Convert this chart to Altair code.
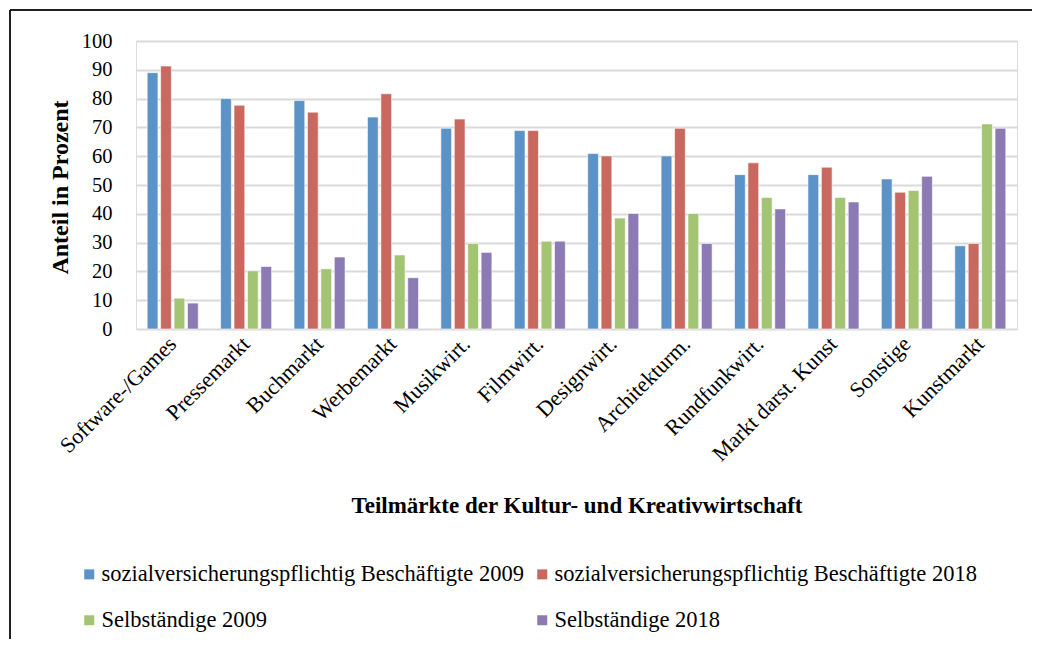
import altair as alt
import pandas as pd

categories = ["Software-/Games", "Pressemarkt", "Buchmarkt", "Werbemarkt", "Musikwirt.",
              "Filmwirt.", "Designwirt.", "Architekturm.", "Rundfunkwirt.",
              "Markt darst. Kunst", "Sonstige", "Kunstmarkt"]
series = ["sozialversicherungspflichtig Beschäftigte 2009",
          "sozialversicherungspflichtig Beschäftigte 2018",
          "Selbständige 2009", "Selbständige 2018"]
svb_2009 = [89, 80, 79.3, 73.6, 69.7, 68.9, 60.9, 60.1, 53.6, 53.6, 52.1, 28.9]
svb_2018 = [91.3, 77.7, 75.3, 81.7, 72.9, 68.9, 60.1, 69.7, 57.7, 56.2, 47.5, 29.7]
selb_2009 = [10.7, 20.2, 20.9, 25.7, 29.7, 30.5, 38.5, 40.1, 45.7, 45.7, 48.1, 71.2]
selb_2018 = [9.0, 21.7, 25.0, 17.8, 26.6, 30.5, 40.1, 29.7, 41.7, 44.1, 53.0, 69.7]
colors = ["#5B92C7", "#C8685F", "#A3C473", "#8B7AB3"]

rows = []
for s, vals in zip(series, [svb_2009, svb_2018, selb_2009, selb_2018]):
    for c, v in zip(categories, vals):
        rows.append({"Teilmarkt": c, "Gruppe": s, "Wert": v})
df = pd.DataFrame(rows)

# legend is filled column by column: order the colour domain so rows read as in the original
legend_order = [series[0], series[2], series[1], series[3]]
legend_colors = [colors[0], colors[2], colors[1], colors[3]]

FONT = "Liberation Serif"

bars = alt.Chart(df).mark_bar(stroke="white", strokeWidth=0.6).encode(
    x=alt.X("Teilmarkt:N", sort=categories,
            scale=alt.Scale(paddingInner=0.305, paddingOuter=0.1525),
            axis=alt.Axis(title="Teilmärkte der Kultur- und Kreativwirtschaft",
                          labelAngle=-45, labelFontSize=22, labelPadding=11,
                          labelAlign="right", labelBaseline="middle",
                          labelFont=FONT, labelColor="#000000",
                          ticks=False, domain=False, grid=False,
                          titleFont=FONT, titleFontSize=23, titleFontWeight="bold",
                          titleColor="#000000", titleY=176, titleBaseline="middle")),
    xOffset=alt.XOffset("Gruppe:N", sort=series,
                        scale=alt.Scale(paddingInner=0.2, paddingOuter=0)),
    y=alt.Y("Wert:Q", scale=alt.Scale(domain=[0, 100], nice=False),
            axis=alt.Axis(title="Anteil in Prozent", values=list(range(0, 101, 10)),
                          labelFontSize=20.5, labelFont=FONT, labelColor="#000000",
                          labelPadding=24, ticks=False, domain=False,
                          gridColor="#d9d9d9", gridWidth=2,
                          titleFont=FONT, titleFontSize=24, titleFontWeight="bold",
                          titleColor="#000000", titleX=-76, titleY=146,
                          titleBaseline="middle", titleAlign="center")),
    color=alt.Color("Gruppe:N",
                    scale=alt.Scale(domain=legend_order, range=legend_colors),
                    legend=alt.Legend(title=None, orient="none", legendX=-58, legendY=522,
                                      columns=2, columnPadding=7, rowPadding=23,
                                      symbolType="square", symbolSize=100,
                                      symbolStrokeWidth=0, symbolOffset=0,
                                      labelFont=FONT, labelFontSize=22.5, labelLimit=0,
                                      labelColor="#000000", labelOffset=1)),
)

frame_top = alt.Chart(df).mark_rule(color="#222222", strokeWidth=1.5).encode(
    x=alt.value(-126), x2=alt.value(900), y=alt.value(-31))
frame_left = alt.Chart(df).mark_rule(color="#222222", strokeWidth=1.5).encode(
    x=alt.value(-126), y=alt.value(-31), y2=alt.value(620))

chart = alt.layer(bars, frame_top, frame_left).properties(
    width=881, height=288,
    autosize=alt.AutoSizeParams(type="none"),
    padding={"left": 128, "top": 33, "right": 15, "bottom": 310},
).configure_view(stroke=None).configure(font=FONT)

chart.save("out.html", embed_options={"renderer": "svg", "actions": False})
